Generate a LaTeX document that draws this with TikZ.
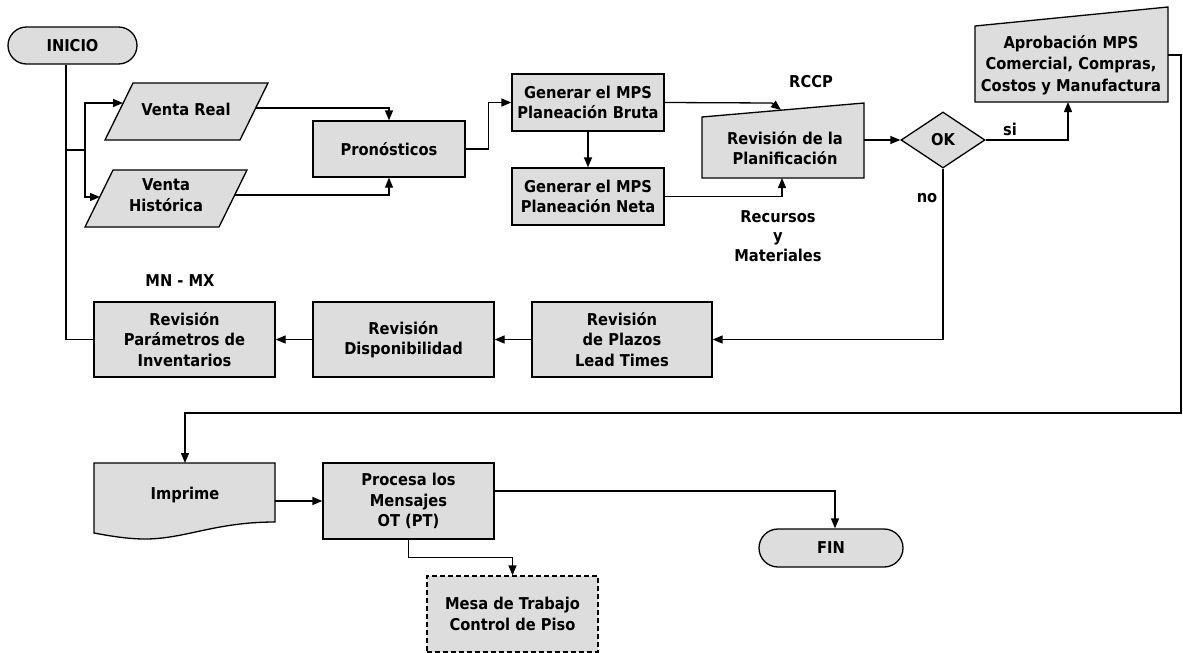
\documentclass[tikz,border=0pt]{standalone}
\usepackage{fontspec}
\setmainfont{DejaVu Sans}[FakeStretch=0.9]
\usetikzlibrary{arrows.meta,shapes.geometric}
\definecolor{boxfill}{HTML}{DDDDDD}
\begin{document}
\begin{tikzpicture}[x=1pt,y=-1pt,
  ln/.style={line width=1.3pt,draw=black},
  arr/.style={ln,-{Triangle[length=10pt,width=8pt]}},
  txt/.style={font=\bfseries\fontsize{16.3}{20.5}\selectfont,align=center,inner sep=0pt},
  shp/.style={draw=black,line width=1.3pt,fill=boxfill},
  proc/.style={shp,txt,rectangle},
  term/.style={shp,txt,rectangle,rounded corners=18.5pt},
  dec/.style={shp,txt,diamond,aspect=1.5,inner sep=0pt}
]
\useasboundingbox (0,0) rectangle (1183,653);

% INICIO
\node[term,minimum width=129pt,minimum height=37pt] (ini) at (72.5,45.5) {INICIO};

% Venta Real
\draw[shp] (133,83) -- (268,83) -- (240,140) -- (105,140) -- cycle;
\node[txt] (vr) at (186,109) {Venta Real};
\coordinate (vrIn) at (123,103);
\coordinate (vrOut) at (256,108);

% Venta Historica
\draw[shp] (113,170) -- (247,170) -- (219,227) -- (85,227) -- cycle;
\node[txt] (vh) at (166,195) {Venta\\Histórica};
\coordinate (vhIn) at (100,197);
\coordinate (vhOut) at (235,195);

% Pronosticos
\node[proc,minimum width=152pt,minimum height=56pt] (pro) at (389,149) {Pronósticos};

% Generar MPS
\node[proc,minimum width=152pt,minimum height=57pt] (bru) at (588,102.5) {Generar el MPS\\Planeación Bruta};
\node[proc,minimum width=152pt,minimum height=57pt] (neta) at (588,196.5) {Generar el MPS\\Planeación Neta};

% Revision de la Planificacion (manual input)
\draw[shp] (702,178) -- (702,117) -- (864,103) -- (864,178) -- cycle;
\node[txt] (rev) at (785,148) {Revisión de la\\Planificación};
\coordinate (revT) at (781,110);
\coordinate (revB) at (782,178);
\coordinate (revR) at (864,140);

\node[txt] (rccp) at (811,82) {RCCP};
\node[txt,font=\bfseries\fontsize{16.3}{19.5}\selectfont] (rym) at (778,236) {Recursos\\y\\Materiales};

% OK
\node[dec,minimum width=84pt,minimum height=56pt] (ok) at (943,140) {OK};

% Aprobacion (manual input)
\draw[shp] (975,102) -- (975,26) -- (1168,7) -- (1168,102) -- cycle;
\node[txt,font=\bfseries\fontsize{16.3}{21.5}\selectfont] (apr) at (1071,65) {Aprobación MPS\\Comercial, Compras,\\Costos y Manufactura};
\coordinate (aprB) at (1068,102);
\coordinate (aprR) at (1168,55);

\node[txt] (si) at (1010,129) {si};
\node[txt] (no) at (927,198) {no};

% Bottom review row
\node[proc,minimum width=181pt,minimum height=75pt] (par) at (184.5,339.5) {Revisión\\Parámetros de\\Inventarios};
\node[proc,minimum width=181pt,minimum height=75pt] (disp) at (403.5,339.5) {Revisión\\Disponibilidad};
\node[proc,minimum width=180pt,minimum height=75pt] (lead) at (622,339.5) {Revisión\\de Plazos\\Lead Times};
\node[txt] (mnmx) at (180,281) {MN - MX};

% Imprime (document)
\draw[shp] (94,533) -- (94,463) -- (275,463) -- (275,522)
  .. controls (215,522) and (185,539) .. (145,539)
  .. controls (128,539) and (110,536) .. (94,533) -- cycle;
\node[txt] (imp) at (185,495) {Imprime};
\coordinate (impT) at (185,463);
\coordinate (impR) at (275,501);

% Procesa
\node[proc,minimum width=171pt,minimum height=76pt] (proc) at (408.5,501) {Procesa los\\Mensajes\\OT (PT)};

% FIN
\node[term,rounded corners=19pt,minimum width=144pt,minimum height=38pt] (fin) at (831,548) {FIN};

% Mesa de trabajo
\node[proc,dash pattern=on 5pt off 3pt,minimum width=171pt,minimum height=76pt] (mesa) at (512.5,614) {Mesa de Trabajo\\Control de Piso};

% Connectors
\draw[ln] ([xshift=-6.5pt]ini.south) |- (par.west);
\coordinate (br) at (66,150);
\coordinate (brR) at (85,150);
\draw[ln] (br) -- (brR);
\draw[arr] (brR) |- (vrIn);
\draw[arr] (brR) |- (vhIn);
\draw[arr] (vrOut) -| (pro.north);
\draw[arr] (vhOut) -| (pro.south);
\draw[arr] (pro.east) -- ++(23,0) |- (bru.west);
\draw[arr] (bru.south) -- (neta.north);
\draw[arr] (bru.east) -- (772,103) -- (revT);
\draw[arr] (neta.east) -| (revB);
\draw[arr] (revR) -- (ok.west);
\draw[arr] (ok.east) -| (aprB);
\draw[arr] (ok.south) |- (lead.east);
\draw[arr] (lead.west) -- (disp.east);
\draw[arr] (disp.west) -- (par.east);
\draw[arr] (aprR) -- (1181,55) |- (185,413) -- (impT);
\draw[arr] (impR) -- (proc.west);
\draw[arr] ([yshift=10pt]proc.east) -| ([xshift=4pt]fin.north);
\draw[arr] (proc.south) -- ++(0,18) -| (mesa.north);
\end{tikzpicture}
\end{document}
